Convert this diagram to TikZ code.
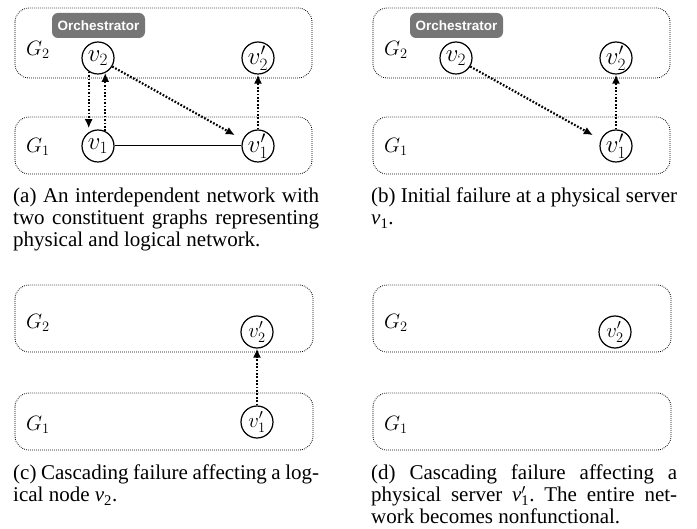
\documentclass[tikz,border=0pt]{standalone}
\usepackage[no-math]{fontspec}
\setmainfont{Liberation Serif}
\newfontfamily\orchfont{Liberation Sans}
\usetikzlibrary{arrows.meta}
\definecolor{orchgray}{RGB}{118,118,118}
\begin{document}
\begin{tikzpicture}[x=1pt,y=-1pt,
 gbox/.style={draw, line width=0.8pt, dash pattern=on 0.8pt off 1.2pt, rounded corners=14pt},
 vnode/.style={circle, draw, fill=white, line width=1.2pt, minimum size=32pt, inner sep=0pt, font=\fontsize{25}{27}\selectfont},
 vsmall/.style={vnode, font=\fontsize{20}{22}\selectfont},
 glabel/.style={inner sep=0pt, font=\fontsize{22}{24}\selectfont},
 dep/.style={line width=2.2pt, dash pattern=on 1.7pt off 1.7pt, -{Latex[length=9pt,width=8pt]}},
 link/.style={line width=1pt},
 orch/.style={fill=orchgray, rounded corners=6pt, minimum width=93pt, minimum height=25pt, text=white, font=\orchfont\bfseries\fontsize{13.5}{15}\selectfont, inner sep=0pt},
 captext/.style={text width=306pt, align=justify, inner sep=0pt, anchor=base west, font=\fontsize{21}{22}\selectfont\frenchspacing}
]
\useasboundingbox (0,0) rectangle (697,529);

% ---------- (a) ----------
\draw[gbox] (15,8) rectangle (312,78);
\draw[gbox] (15,117) rectangle (312,174);
\node[glabel] (ga2) at (38,50) {$G_2$};
\node[glabel] (ga1) at (38,147) {$G_1$};
\node[orch] (orA) at (98.5,25.5) {Orchestrator};
\node[vnode] (a2) at (98,58) {$v_2$};
\node[vnode] (a2p) at (258,58) {$v'_2$};
\node[vnode] (a1) at (98,146) {$v_1$};
\node[vnode] (a1p) at (258,146) {$v'_1$};
\draw[link] (a1) -- (a1p);
\draw[dep, shorten >=4pt] (a2.-124) -- (a1.124);
\draw[dep] (a1.64) -- (a2.-64);
\draw[dep, shorten >=9pt] (a2.-31) -- (a1p.157);
\draw[dep] (a1p) -- (a2p);
\node[captext] (capa) at (13,203) {(a) An interdependent network with\linebreak two constituent graphs representing\linebreak physical and logical network.};

% ---------- (b) ----------
\draw[gbox] (373,8) rectangle (670,78);
\draw[gbox] (373,117) rectangle (670,174);
\node[glabel] (gb2) at (396,50) {$G_2$};
\node[glabel] (gb1) at (396,147) {$G_1$};
\node[orch] (orB) at (456.5,25.5) {Orchestrator};
\node[vnode] (b2) at (456,58) {$v_2$};
\node[vnode] (b2p) at (616,58) {$v'_2$};
\node[vnode] (b1p) at (616,146) {$v'_1$};
\draw[dep, shorten >=9pt] (b2.-31) -- (b1p.157);
\draw[dep] (b1p) -- (b2p);
\node[captext] (capb) at (371,203) {(b) Initial failure at a physical server\linebreak \textit{v}\textsubscript{1}.};

% ---------- (c) ----------
\draw[gbox] (15,285) rectangle (313,352);
\draw[gbox] (15,393) rectangle (313,450);
\node[glabel] (gc2) at (38,323) {$G_2$};
\node[glabel] (gc1) at (38,425) {$G_1$};
\node[vsmall] (c2p) at (257,332) {$v'_2$};
\node[vsmall] (c1p) at (257,422) {$v'_1$};
\draw[dep] (c1p) -- (c2p);
\node[captext] (capc) at (13,480) {(c) Cascading failure affecting a log-\linebreak ical node \textit{v}\textsubscript{2}.};

% ---------- (d) ----------
\draw[gbox] (373,285) rectangle (671,352);
\draw[gbox] (373,393) rectangle (671,450);
\node[glabel] (gd2) at (396,323) {$G_2$};
\node[glabel] (gd1) at (396,425) {$G_1$};
\node[vsmall] (d2p) at (615,332) {$v'_2$};
\node[captext] (capd) at (371,480) {(d) Cascading failure affecting a\linebreak physical server \textit{v}\rlap{$^{\prime}$}\textsubscript{1}. The entire net-\linebreak work becomes nonfunctional.};
\end{tikzpicture}
\end{document}
